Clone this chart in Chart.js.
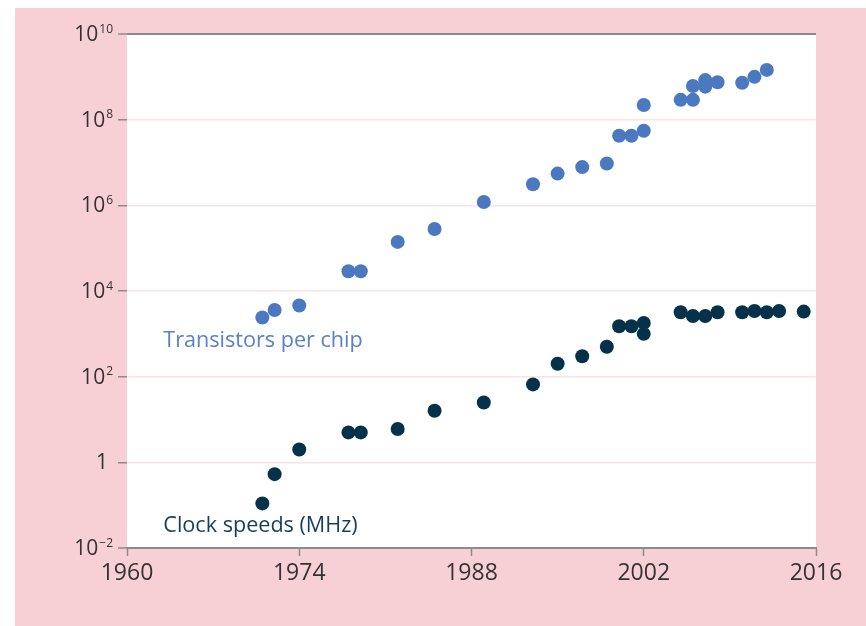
<!DOCTYPE html>
<html>
<head>
<meta charset="utf-8">
<script src="https://cdn.jsdelivr.net/npm/chart.js@4.4.1/dist/chart.umd.min.js"></script>
<style>
  html, body { margin: 0; padding: 0; background: #ffffff; }
  #wrap { position: absolute; left: 15px; top: 8px; width: 851px; height: 618px; background: #f7d0d5; }
</style>
</head>
<body>
<div id="wrap"><canvas id="chart" width="851" height="618"></canvas></div>
<script>
// ─── DATA ────────────────────────────────────────────────────
const transistorYears  = [1971, 1972, 1974, 1978, 1979, 1982, 1985, 1989, 1993, 1995, 1997, 1999, 2000, 2001, 2002, 2002, 2005, 2006, 2006, 2007, 2007, 2008, 2010, 2011, 2012];
const transistorCounts = [2400, 3600, 4600, 29000, 29000, 140000, 280000, 1200000, 3100000, 5500000, 7800000, 9500000,
                          42000000, 42000000, 55000000, 220000000, 290000000, 290000000, 610000000, 840000000,
                          590000000, 750000000, 730000000, 1000000000, 1450000000];

const clockYears = [1971, 1972, 1974, 1978, 1979, 1982, 1985, 1989, 1993, 1995, 1997, 1999, 2000, 2001, 2002, 2002, 2005, 2006, 2007, 2008, 2010, 2011, 2012, 2013, 2015];
const clockMHz   = [0.11, 0.53, 2, 5, 5, 6, 16, 25, 66, 200, 300, 500, 1500, 1500, 1800, 1000, 3200, 2600, 2600, 3200, 3200, 3400, 3200, 3400, 3300];

const xTicks = [1960, 1974, 1988, 2002, 2016];
const yTicks = [1e-2, 1, 1e2, 1e4, 1e6, 1e8, 1e10];

const FONT = '"Open Sans", "DejaVu Sans", sans-serif';
const TEXT = "#333333";
const AXIS = "#8c8c8c";

// ─── PLUGINS ─────────────────────────────────────────────────
// white plot area on the pink page
const plotBackground = {
    id: "plotBackground",
    beforeDraw(chart) {
        const { ctx, chartArea: a } = chart;
        ctx.save();
        ctx.fillStyle = "#ffffff";
        ctx.fillRect(a.left, a.top, a.right - a.left, a.bottom - a.top);
        ctx.restore();
    }
};

// y labels as 10 with a raised exponent
const powerLabels = {
    id: "powerLabels",
    afterDraw(chart) {
        const { ctx } = chart;
        const y = chart.scales.y;
        const right = y.right - 14;
        ctx.save();
        ctx.fillStyle = TEXT;
        ctx.textBaseline = "alphabetic";
        yTicks.forEach(v => {
            const py = y.getPixelForValue(v);
            const exp = Math.round(Math.log10(v));
            if (exp === 0) {
                ctx.font = "21px " + FONT;
                ctx.textAlign = "right";
                ctx.fillText("1", right - 5, py + 7);
                return;
            }
            const sup = exp < 0 ? "\u2212" + (-exp) : String(exp);
            ctx.font = "12px " + FONT;
            const w = ctx.measureText(sup).width;
            ctx.textAlign = "left";
            ctx.fillText(sup, right - w, py - 1.5);
            ctx.font = "21px " + FONT;
            ctx.textAlign = "right";
            ctx.fillText("10", right - w - 1, py + 7);
        });
        ctx.restore();
    }
};

// series names written inside the plot
const seriesLabels = {
    id: "seriesLabels",
    afterDatasetsDraw(chart) {
        const { ctx } = chart;
        const x = chart.scales.x, y = chart.scales.y;
        const items = [
            { text: "Transistors per chip", year: 1962.95, value: 485,    color: "#5a80c6" },
            { text: "Clock speeds (MHz)",   year: 1962.95, value: 0.0233, color: "#163e5c" }
        ];
        ctx.save();
        ctx.font = "21.6px " + FONT;
        ctx.textAlign = "left";
        ctx.textBaseline = "alphabetic";
        items.forEach(it => {
            ctx.fillStyle = it.color;
            ctx.fillText(it.text, x.getPixelForValue(it.year), y.getPixelForValue(it.value));
        });
        ctx.restore();
    }
};

// ─── CHART ───────────────────────────────────────────────────
function toPoints(xs, ys) {
    return xs.map((v, i) => ({ x: v, y: ys[i] }));
}

const edgeTick = ctx => ctx.index === 0 || ctx.index === yTicks.length - 1;

new Chart(document.getElementById("chart"), {
    type: "scatter",
    data: {
        datasets: [
            {
                label: "Transistors per chip",
                data: toPoints(transistorYears, transistorCounts),
                backgroundColor: "#4a79c0",
                borderWidth: 0,
                pointRadius: 7,
                pointHoverRadius: 7
            },
            {
                label: "Clock speeds (MHz)",
                data: toPoints(clockYears, clockMHz),
                backgroundColor: "#06314b",
                borderWidth: 0,
                pointRadius: 7,
                pointHoverRadius: 7
            }
        ]
    },
    options: {
        responsive: false,
        animation: false,
        layout: { padding: { top: 26, right: 50, bottom: 0, left: 0 } },
        plugins: {
            legend: { display: false },
            tooltip: { enabled: false }
        },
        scales: {
            x: {
                type: "linear",
                min: 1960,
                max: 2016,
                afterBuildTicks: s => { s.ticks = xTicks.map(v => ({ value: v })); },
                afterFit: s => { s.height = 78; },
                ticks: {
                    color: TEXT,
                    font: { family: FONT, size: 23 },
                    padding: 4,
                    maxRotation: 0,
                    callback: v => String(v)
                },
                grid: { drawOnChartArea: false, tickLength: 8, tickColor: AXIS, tickWidth: 1.5 },
                border: { color: AXIS, width: 2 }
            },
            y: {
                type: "logarithmic",
                min: 1e-2,
                max: 1e10,
                afterBuildTicks: s => { s.ticks = yTicks.map(v => ({ value: v })); },
                afterFit: s => { s.width = 112; },
                ticks: { color: "rgba(0,0,0,0)", callback: v => String(v) },
                grid: {
                    color: c => edgeTick(c) ? AXIS : "#fbe1e4",
                    lineWidth: c => edgeTick(c) ? 2 : 1.5,
                    tickLength: 9,
                    tickColor: AXIS,
                    tickWidth: 1.5
                },
                border: { display: false }
            }
        }
    },
    plugins: [plotBackground, powerLabels, seriesLabels]
});
</script>
</body>
</html>
